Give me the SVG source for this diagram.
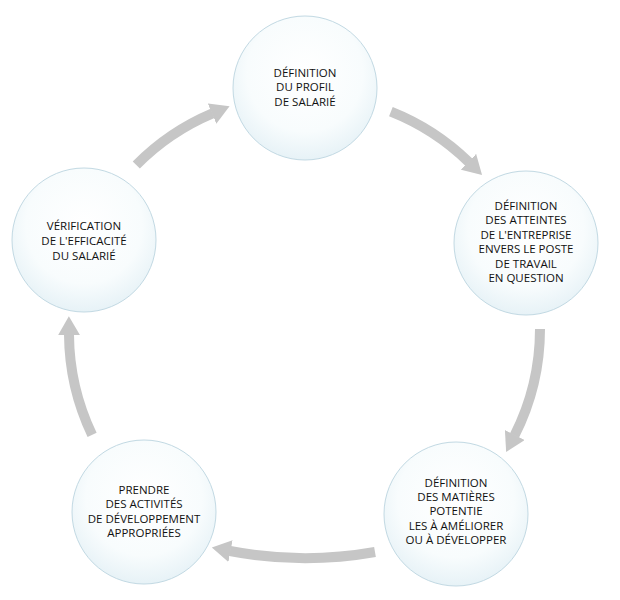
<svg xmlns="http://www.w3.org/2000/svg" width="620" height="600" viewBox="0 0 620 600">
  <defs>
    <radialGradient id="bubble" cx="50%" cy="40%" r="62%">
      <stop offset="0" stop-color="#ffffff"/>
      <stop offset="0.65" stop-color="#f8fcfd"/>
      <stop offset="1" stop-color="#e5f1f6"/>
    </radialGradient>
    <marker id="head" markerUnits="userSpaceOnUse" markerWidth="19" markerHeight="22" viewBox="0 0 19 22" refX="0.5" refY="11" orient="auto">
      <path d="M0,0 L19,11 L0,22 Z" fill="#c6c6c6"/>
    </marker>
    <style>
      .node circle { fill: url(#bubble); stroke: #c2d9e3; stroke-width: 1; }
      .node text { font-family: "Open Sans", "Liberation Sans", sans-serif; font-size: 11.5px; fill: #111111; text-anchor: middle; }
      .conn path { fill: none; stroke: #c6c6c6; stroke-width: 10; stroke-linecap: butt; marker-end: url(#head); }
    </style>
  </defs>
  <rect width="620" height="600" fill="#ffffff"/>

  <g id="connectors" class="conn">
    <path d="M390.9,111.6 A236,236 0 0 1 468.8,162.1"/>
    <path d="M540,328.9 A236,236 0 0 1 514.5,435.5"/>
    <path d="M375,552 A400,400 0 0 1 230,551"/>
    <path d="M92.1,434.8 A236,236 0 0 1 69,334.7"/>
    <path d="M136.3,165.0 A236,236 0 0 1 212.5,113.4"/>
  </g>

  <g id="node-profil" class="node">
    <circle cx="305" cy="88" r="72"/>
    <text x="305" y="77">DÉFINITION<tspan x="305" dy="14.3">DU PROFIL</tspan><tspan x="305" dy="14.3">DE SALARIÉ</tspan></text>
  </g>

  <g id="node-atteintes" class="node">
    <circle cx="526" cy="243" r="72"/>
    <text x="526" y="209.5">DÉFINITION<tspan x="526" dy="14.5">DES ATTEINTES</tspan><tspan x="526" dy="14.5">DE L'ENTREPRISE</tspan><tspan x="526" dy="14.5">ENVERS LE POSTE</tspan><tspan x="526" dy="14.5">DE TRAVAIL</tspan><tspan x="526" dy="14.5">EN QUESTION</tspan></text>
  </g>

  <g id="node-matieres" class="node">
    <circle cx="456" cy="514" r="72"/>
    <text x="456" y="487">DÉFINITION<tspan x="456" dy="14.2">DES MATIÈRES</tspan><tspan x="456" dy="14.2">POTENTIE</tspan><tspan x="456" dy="14.2">LES À AMÉLIORER</tspan><tspan x="456" dy="14.2">OU À DÉVELOPPER</tspan></text>
  </g>

  <g id="node-activites" class="node">
    <circle cx="144" cy="512" r="72"/>
    <text x="144" y="493.5">PRENDRE<tspan x="144" dy="14.6">DES ACTIVITÉS</tspan><tspan x="144" dy="14.6">DE DÉVELOPPEMENT</tspan><tspan x="144" dy="14.6">APPROPRIÉES</tspan></text>
  </g>

  <g id="node-verification" class="node">
    <circle cx="84" cy="240" r="72"/>
    <text x="84" y="230">VÉRIFICATION<tspan x="84" dy="14.8">DE L'EFFICACITÉ</tspan><tspan x="84" dy="14.8">DU SALARIÉ</tspan></text>
  </g>
</svg>
